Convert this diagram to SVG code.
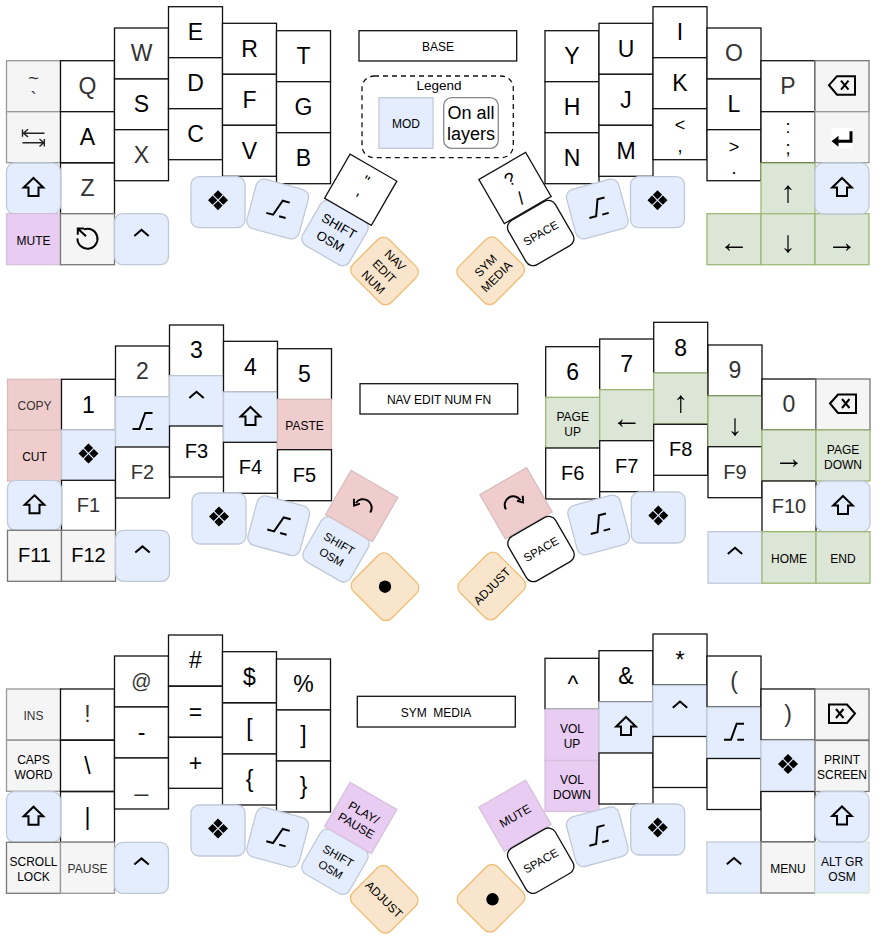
<svg xmlns="http://www.w3.org/2000/svg" width="882" height="940" viewBox="0 0 882 940">
<style>
rect{stroke-width:1.3}
.w{fill:#fff;stroke:#111}
.g{fill:#f5f5f5;stroke:#999}
.gk{fill:#f5f5f5;stroke:#777}
.b{fill:#e3edfd;stroke:#c0c9d7}
.a{fill:#e3edfd;stroke:#d6e6d8}
.v{fill:#dce6d6;stroke:#9db876}
.r{fill:#f0cdcd;stroke:#d9bcbc}
.p{fill:#e8ccf2;stroke:#d6c0dc}
.o{fill:#f9e5cb;stroke:#efbd73}
text{font-family:"Liberation Sans",Arial,sans-serif;text-anchor:middle;fill:#000}
.l{font-size:23px}
.f{font-size:20px}
.h{font-size:18px}
.s{font-size:12px}
.x{font-size:11.500px}
.m{font-size:13px}
.d{fill:#333}
.ar{font-size:30px;filter:grayscale(1)}
.ic{fill:none;stroke:#000;stroke-width:2}
.t1{fill:none;stroke:#222;stroke-width:1.4}
</style>
<defs>
<path id="super" d="M0-10L4.6-5.4 0-.8-4.6-5.4ZM0 .8L4.6 5.4 0 10-4.6 5.4ZM-5.4-4.6L-.8 0-5.4 4.6-10 0ZM5.4-4.6L10 0 5.4 4.6 .8 0Z" transform="translate(0 -2)"/>
<g id="alt" class="ic"><path d="M-10 6.700H-3L2.700-9.300H10M3.300 6.700H10"/></g>
<path id="shift" class="ic" d="M0-10.500L9.800-1H5V7.500H-5V-1H-9.800Z"/>
<path id="ctrl" class="ic" d="M-7.200-3.200L0-9.400 7.200-3.200"/>
<g id="bksp" class="ic"><path d="M-13-.5L-5-9.500H13V9H-5Z"/><path d="M-1-5L6.500 4M6.500-5L-1 4"/></g>
<g id="del" class="ic"><path d="M13-.5L5-9.500H-13V9H5Z"/><path d="M-6-5L1.500 4M1.500-5L-6 4"/></g>
<g id="enter"><rect x="-10.500" y="-10.500" width="21" height="21" fill="#fff" style="stroke:none"/><path d="M9-7V3H-4" fill="none" stroke="#000" stroke-width="3"/><path d="M-10.500 3L-3.500-2.500V8.500Z"/></g>
<g id="tab" class="t1"><path d="M-10.500-4.500H11M-11-8.200V-1M-5.500-8.500L-10-4.500-5.500-.8M-11 5H10M10.800 1.200V8.800M6 1.200L10.200 5 6 8.800"/></g>
<g id="restore" class="ic"><path d="M-3.500-9.800A10 10 0 1 1-10-.8"/><path d="M-9-10L-1.500-3M-9.700-4.500V-10.600H-3.500"/></g>
<g id="undo" class="ic"><path d="M8.500 6.500A8.500 8.500 0 0 0-5.800-3"/><path d="M-7.800-7.200L-7.600-.4-1.800-2.400"/></g>
<g id="redo" class="ic"><path d="M-10 6A8.500 8.500 0 0 1 4.500-3"/><path d="M6.800-7.500L7-.8 1-2.600"/></g>
</defs>

<!-- BASE LEFT -->
<g id="base-tilde" transform="translate(6.500 60.700)"><rect class="g" width="54" height="51"/><text class="d h" x="27" y="23">~</text><text class="d h" x="27" y="44">`</text></g>
<g id="base-tab" transform="translate(6.500 111.700)"><rect class="g" width="54" height="51"/><use href="#tab" x="27" y="26"/></g>
<g id="base-q" transform="translate(60.500 60.700)"><rect class="w" width="54" height="51"/><text class="l d" x="27" y="33.400">Q</text></g>
<g id="base-a" transform="translate(60.500 111.700)"><rect class="w" width="54" height="51"/><text class="l" x="27" y="33.400">A</text></g>
<g id="base-z" transform="translate(60.500 163)"><rect class="w" width="54" height="51"/><text class="l d" x="27" y="33.400">Z</text></g>
<g id="base-shift" transform="translate(6.500 163)"><rect class="b" width="54" height="51" rx="8"/><use href="#shift" x="27" y="25.500"/></g>
<g id="base-mute" transform="translate(6.500 213.700)"><rect class="p" width="54" height="51"/><text class="s" x="27" y="31">MUTE</text></g>
<g id="base-restore" transform="translate(60.500 213.700)"><rect class="gk" width="54" height="51"/><use href="#restore" x="27" y="25.500"/></g>
<g id="base-ctrl" transform="translate(114.500 213.700)"><rect class="b" width="54" height="51" rx="8"/><use href="#ctrl" x="27" y="25.500"/></g>
<g id="base-w" transform="translate(114.500 28)"><rect class="w" width="54" height="51"/><text class="l d" x="27" y="33.400">W</text></g>
<g id="base-s" transform="translate(114.500 79)"><rect class="w" width="54" height="51"/><text class="l" x="27" y="33.400">S</text></g>
<g id="base-x" transform="translate(114.500 129.700)"><rect class="w" width="54" height="51"/><text class="l d" x="27" y="33.400">X</text></g>
<g id="base-e" transform="translate(168.500 6.700)"><rect class="w" width="54" height="51"/><text class="l" x="27" y="33.400">E</text></g>
<g id="base-d" transform="translate(168.500 57.700)"><rect class="w" width="54" height="51"/><text class="l" x="27" y="33.400">D</text></g>
<g id="base-c" transform="translate(168.500 108.700)"><rect class="w" width="54" height="51"/><text class="l" x="27" y="33.400">C</text></g>
<g id="base-r" transform="translate(222.500 23.300)"><rect class="w" width="54" height="51"/><text class="l" x="27" y="33.400">R</text></g>
<g id="base-f" transform="translate(222.500 74.300)"><rect class="w" width="54" height="51"/><text class="l" x="27" y="33.400">F</text></g>
<g id="base-v" transform="translate(222.500 125.300)"><rect class="w" width="54" height="51"/><text class="l" x="27" y="33.400">V</text></g>
<g id="base-t" transform="translate(276.500 30.700)"><rect class="w" width="54" height="51"/><text class="l" x="27" y="33.400">T</text></g>
<g id="base-g" transform="translate(276.500 81.700)"><rect class="w" width="54" height="51"/><text class="l" x="27" y="33.400">G</text></g>
<g id="base-b" transform="translate(276.500 132.700)"><rect class="w" width="54" height="51"/><text class="l" x="27" y="33.400">B</text></g>
<g id="base-super-l" transform="translate(191 176.700)"><rect class="b" width="54" height="51" rx="8"/><use href="#super" x="27" y="25.500"/></g>
<g id="base-alt-l" transform="translate(277.700 209) rotate(15)"><rect class="b" x="-27" y="-25.500" width="54" height="51" rx="8"/><use href="#alt"/></g>
<g id="base-shiftosm" transform="translate(335 233) rotate(30)"><rect class="b" x="-27" y="-25.500" width="54" height="51" rx="8"/><text class="m" x="0" y="-3.500">SHIFT</text><text class="m" x="0" y="14">OSM</text></g>
<g id="base-quote" transform="translate(360.700 189.700) rotate(30)"><rect class="w" x="-27" y="-25.500" width="54" height="51"/><text style="font-size:16px" x="0" y="-4.600">"</text><text style="font-size:16px" x="0" y="15.700">'</text></g>
<g id="base-nav" transform="translate(384.500 271) rotate(45)"><rect class="o" x="-27" y="-25.500" width="54" height="51" rx="8"/><text class="s" x="0" y="-11">NAV</text><text class="s" x="0" y="4.500">EDIT</text><text class="s" x="0" y="20">NUM</text></g>

<!-- TITLE AND LEGEND -->
<g id="title-base"><rect class="w" x="359" y="30.700" width="157.700" height="30.300"/><text class="s" x="438" y="50.500">BASE</text></g>
<g id="legend">
<rect x="362" y="76" width="151.300" height="81.700" rx="12" fill="none" stroke="#111" stroke-dasharray="5 4"/>
<text style="font-size:13.500px" x="439" y="90">Legend</text>
<g id="legend-mod"><rect class="b" x="379" y="97.700" width="54" height="50.600"/><text class="s" x="406" y="127.500">MOD</text></g>
<g id="legend-all"><rect x="443.700" y="97.700" width="54.600" height="50.600" rx="8" fill="#fff" stroke="#888"/><text class="h" x="471" y="119">On all</text><text class="h" x="471" y="140">layers</text></g>
</g>

<!-- BASE RIGHT -->
<g id="base-y" transform="translate(545 30.700)"><rect class="w" width="54" height="51"/><text class="l" x="27" y="33.400">Y</text></g>
<g id="base-h" transform="translate(545 81.700)"><rect class="w" width="54" height="51"/><text class="l" x="27" y="33.400">H</text></g>
<g id="base-n" transform="translate(545 132.700)"><rect class="w" width="54" height="51"/><text class="l" x="27" y="33.400">N</text></g>
<g id="base-u" transform="translate(599 23.300)"><rect class="w" width="54" height="51"/><text class="l" x="27" y="33.400">U</text></g>
<g id="base-j" transform="translate(599 74.300)"><rect class="w" width="54" height="51"/><text class="l" x="27" y="33.400">J</text></g>
<g id="base-m" transform="translate(599 125.300)"><rect class="w" width="54" height="51"/><text class="l" x="27" y="33.400">M</text></g>
<g id="base-i" transform="translate(653 6.700)"><rect class="w" width="54" height="51"/><text class="l" x="27" y="33.400">I</text></g>
<g id="base-k" transform="translate(653 57.700)"><rect class="w" width="54" height="51"/><text class="l" x="27" y="33.400">K</text></g>
<g id="base-lt" transform="translate(653 108.700)"><rect class="w" width="54" height="51"/><text class="h" x="27" y="22.600">&lt;</text><text class="h" x="27" y="43.400">,</text></g>
<g id="base-o" transform="translate(707 28)"><rect class="w" width="54" height="51"/><text class="l d" x="27" y="33.400">O</text></g>
<g id="base-l" transform="translate(707 79)"><rect class="w" width="54" height="51"/><text class="l" x="27" y="33.400">L</text></g>
<g id="base-gt" transform="translate(707 129.700)"><rect class="w" width="54" height="51"/><text class="h" x="27" y="23">&gt;</text><text class="h" x="27" y="44">.</text></g>
<g id="base-p" transform="translate(761 60.700)"><rect class="w" width="54" height="51"/><text class="l d" x="27" y="33.400">P</text></g>
<g id="base-semi" transform="translate(761 111.700)"><rect class="w" width="54" height="51"/><text class="h" x="27" y="21.600">:</text><text class="h" x="27" y="42.300">;</text></g>
<g id="base-up" transform="translate(761 163)"><rect class="v" width="54" height="51"/><text class="ar" x="27" y="38.800">↑</text></g>
<g id="base-left" transform="translate(707 213.700)"><rect class="v" width="54" height="51"/><text class="ar" x="27" y="38">←</text></g>
<g id="base-down" transform="translate(761 213.700)"><rect class="v" width="54" height="51"/><text class="ar" x="27" y="38.800">↓</text></g>
<g id="base-right" transform="translate(815 213.700)"><rect class="v" width="54" height="51"/><text class="ar" x="27" y="38">→</text></g>
<g id="base-bksp" transform="translate(815 60.700)"><rect class="gk" width="54" height="51"/><use href="#bksp" x="27" y="25"/></g>
<g id="base-enter" transform="translate(815 111.700)"><rect class="g" width="54" height="51"/><use href="#enter" x="27" y="26.500"/></g>
<g id="base-shift-r" transform="translate(815 163)"><rect class="b" width="54" height="51" rx="8"/><use href="#shift" x="27" y="25.500"/></g>
<g id="base-super-r" transform="translate(630.500 176.700)"><rect class="b" width="54" height="51" rx="8"/><use href="#super" x="27" y="25.500"/></g>
<g id="base-alt-r" transform="translate(597.300 209) rotate(-15)"><rect class="b" x="-27" y="-25.500" width="54" height="51" rx="8"/><use href="#alt"/></g>
<g id="base-slash" transform="translate(515 188) rotate(-30)"><rect class="w" x="-27" y="-25.500" width="54" height="51"/><text class="h" x="0" y="-4">?</text><text class="h" x="0" y="18">/</text></g>
<g id="base-space" transform="translate(540.700 233) rotate(-30)"><rect class="w" x="-27" y="-25.500" width="54" height="51" rx="8"/><text class="x" x="0" y="4.200">SPACE</text></g>
<g id="base-sym" transform="translate(490.700 270.700) rotate(-45)"><rect class="o" x="-27" y="-25.500" width="54" height="51" rx="8"/><text class="s" x="0" y="-3">SYM</text><text class="s" x="0" y="12.500">MEDIA</text></g>

<!-- NAV LEFT -->
<g id="nav-copy" transform="translate(7.500 379.300)"><rect class="r" width="54" height="51"/><text class="s d" x="27" y="31">COPY</text></g>
<g id="nav-cut" transform="translate(7.500 430)"><rect class="r" width="54" height="51"/><text class="s" x="27" y="31">CUT</text></g>
<g id="nav-1" transform="translate(61.500 379.300)"><rect class="w" width="54" height="51"/><text class="l" x="27" y="33.400">1</text></g>
<g id="nav-super" transform="translate(61.500 430)"><rect class="b" width="54" height="51"/><use href="#super" x="27" y="25.500"/></g>
<g id="nav-f1" transform="translate(61.500 480.300)"><rect class="w" width="54" height="51"/><text class="f d" x="27" y="32">F1</text></g>
<g id="nav-shift" transform="translate(7.500 480.300)"><rect class="b" width="54" height="50" rx="8"/><use href="#shift" x="27" y="25.500"/></g>
<g id="nav-f11" transform="translate(7.500 530.300)"><rect class="gk" width="54" height="51"/><text class="f" x="27" y="32">F11</text></g>
<g id="nav-f12" transform="translate(61.500 530.300)"><rect class="gk" width="54" height="51"/><text class="f" x="27" y="32">F12</text></g>
<g id="nav-ctrl" transform="translate(115.500 530.300)"><rect class="b" width="54" height="51" rx="8"/><use href="#ctrl" x="27" y="25.500"/></g>
<g id="nav-2" transform="translate(115.500 346)"><rect class="w" width="54" height="51"/><text class="l d" x="27" y="33.400">2</text></g>
<g id="nav-alt" transform="translate(115.500 396.700)"><rect class="b" width="54" height="51"/><use href="#alt" x="27" y="25.500"/></g>
<g id="nav-f2" transform="translate(115.500 447)"><rect class="w" width="54" height="51"/><text class="f d" x="27" y="32">F2</text></g>
<g id="nav-3" transform="translate(169.500 325)"><rect class="w" width="54" height="51"/><text class="l" x="27" y="33.400">3</text></g>
<g id="nav-ctrl2" transform="translate(169.500 375.700)"><rect class="b" width="54" height="51"/><use href="#ctrl" x="27" y="25.500"/></g>
<g id="nav-f3" transform="translate(169.500 426)"><rect class="w" width="54" height="51"/><text class="f" x="27" y="32">F3</text></g>
<g id="nav-4" transform="translate(223.500 341.300)"><rect class="w" width="54" height="51"/><text class="l" x="27" y="33.400">4</text></g>
<g id="nav-shift2" transform="translate(223.500 392)"><rect class="b" width="54" height="51"/><use href="#shift" x="27" y="25.500"/></g>
<g id="nav-f4" transform="translate(223.500 442.300)"><rect class="w" width="54" height="51"/><text class="f" x="27" y="32">F4</text></g>
<g id="nav-5" transform="translate(277.500 348.700)"><rect class="w" width="54" height="51"/><text class="l" x="27" y="33.400">5</text></g>
<g id="nav-paste" transform="translate(277.500 399.300)"><rect class="r" width="54" height="51"/><text class="s" x="27" y="31">PASTE</text></g>
<g id="nav-f5" transform="translate(277.500 449.700)"><rect class="w" width="54" height="51"/><text class="f" x="27" y="32">F5</text></g>
<g id="nav-super-l" transform="translate(192 493)"><rect class="b" width="54" height="51" rx="8"/><use href="#super" x="27" y="25.500"/></g>
<g id="nav-alt-l" transform="translate(278.700 525.700) rotate(15)"><rect class="b" x="-27" y="-25.500" width="54" height="51" rx="8"/><use href="#alt"/></g>
<g id="nav-shiftosm" transform="translate(336 549.300) rotate(30)"><rect class="b" x="-27" y="-25.500" width="54" height="51" rx="8"/><text class="x" x="0" y="-2.500">SHIFT</text><text class="x" x="0" y="13">OSM</text></g>
<g id="nav-undo" transform="translate(361.700 506)"><rect class="r" x="-27" y="-25.500" width="54" height="51" transform="rotate(30)"/><use href="#undo"/></g>
<g id="nav-dot" transform="translate(385 586.700)"><rect class="o" x="-27" y="-25.500" width="54" height="51" rx="8" transform="rotate(45)"/><circle r="6.200"/></g>
<g id="title-nav"><rect class="w" x="360" y="383.700" width="157.700" height="30.300"/><text class="s" x="439" y="403.500">NAV EDIT NUM FN</text></g>

<!-- NAV RIGHT -->
<g id="nav-6" transform="translate(545.700 346.700)"><rect class="w" width="54" height="51"/><text class="l" x="27" y="33.400">6</text></g>
<g id="nav-pgup" transform="translate(545.700 397.300)"><rect class="v" width="54" height="51"/><text class="s" x="27" y="23.600">PAGE</text><text class="s" x="27" y="38.600">UP</text></g>
<g id="nav-f6" transform="translate(545.700 448)"><rect class="w" width="54" height="51"/><text class="f" x="27" y="32">F6</text></g>
<g id="nav-7" transform="translate(599.700 339)"><rect class="w" width="54" height="51"/><text class="l" x="27" y="33.400">7</text></g>
<g id="nav-left" transform="translate(599.700 389.700)"><rect class="v" width="54" height="51"/><text class="ar" x="27" y="38">←</text></g>
<g id="nav-f7" transform="translate(599.700 440.700)"><rect class="w" width="54" height="51"/><text class="f" x="27" y="32">F7</text></g>
<g id="nav-8" transform="translate(653.700 322.300)"><rect class="w" width="54" height="51"/><text class="l" x="27" y="33.400">8</text></g>
<g id="nav-up" transform="translate(653.700 373)"><rect class="v" width="54" height="51"/><text class="ar" x="27" y="38.800">↑</text></g>
<g id="nav-f8" transform="translate(653.700 424.300)"><rect class="w" width="54" height="51"/><text class="f" x="27" y="32">F8</text></g>
<g id="nav-9" transform="translate(708 345)"><rect class="w" width="54" height="51"/><text class="l d" x="27" y="33.400">9</text></g>
<g id="nav-down" transform="translate(708 396)"><rect class="v" width="54" height="51"/><text class="ar" x="27" y="38.800">↓</text></g>
<g id="nav-f9" transform="translate(708 446.700)"><rect class="w" width="54" height="51"/><text class="f d" x="27" y="32">F9</text></g>
<g id="nav-0" transform="translate(762 379)"><rect class="w" width="54" height="51"/><text class="l d" x="27" y="33.400">0</text></g>
<g id="nav-right" transform="translate(762 430)"><rect class="v" width="54" height="51"/><text class="ar" x="27" y="38">→</text></g>
<g id="nav-f10" transform="translate(762 481)"><rect class="w" width="54" height="50.700"/><text class="f d" x="27" y="32">F10</text></g>
<g id="nav-bksp" transform="translate(816 379)"><rect class="gk" width="54" height="51"/><use href="#bksp" x="27" y="25"/></g>
<g id="nav-pgdn" transform="translate(816 430)"><rect class="v" width="54" height="51"/><text class="s" x="27" y="23.600">PAGE</text><text class="s" x="27" y="38.600">DOWN</text></g>
<g id="nav-shift-r" transform="translate(816 481)"><rect class="b" width="54" height="50.700" rx="8"/><use href="#shift" x="27" y="25.500"/></g>
<g id="nav-ctrl-r" transform="translate(708 531.700)"><rect class="b" width="54" height="51.500"/><use href="#ctrl" x="27" y="25.500"/></g>
<g id="nav-home" transform="translate(762 531.700)"><rect class="v" width="54" height="51.500"/><text class="s" x="27" y="31">HOME</text></g>
<g id="nav-end" transform="translate(816 531.700)"><rect class="v" width="54" height="51.500"/><text class="s" x="27" y="31">END</text></g>
<g id="nav-super-r" transform="translate(631.300 492)"><rect class="b" width="54" height="51" rx="8"/><use href="#super" x="27" y="25.500"/></g>
<g id="nav-alt-r" transform="translate(598.700 525) rotate(-15)"><rect class="b" x="-27" y="-25.500" width="54" height="51" rx="8"/><use href="#alt"/></g>
<g id="nav-redo" transform="translate(516 503.300)"><rect class="r" x="-27" y="-25.500" width="54" height="51" transform="rotate(-30)"/><use href="#redo"/></g>
<g id="nav-space" transform="translate(541 549) rotate(-30)"><rect class="w" x="-27" y="-25.500" width="54" height="51" rx="8"/><text class="x" x="0" y="4.200">SPACE</text></g>
<g id="nav-adjust" transform="translate(491.700 586) rotate(-45)"><rect class="o" x="-27" y="-25.500" width="54" height="51" rx="8"/><text class="s" x="0" y="4.500">ADJUST</text></g>

<!-- SYM LEFT -->
<g id="sym-ins" transform="translate(6.500 689)"><rect class="g" width="54" height="51"/><text class="s d" x="27" y="31">INS</text></g>
<g id="sym-caps" transform="translate(6.500 740.300)"><rect class="g" width="54" height="51"/><text class="s" x="27" y="23.600">CAPS</text><text class="s" x="27" y="38.600">WORD</text></g>
<g id="sym-excl" transform="translate(60.500 689)"><rect class="w" width="54" height="51"/><text class="l d" x="27" y="33.400">!</text></g>
<g id="sym-bsl" transform="translate(60.500 740.300)"><rect class="w" width="54" height="51"/><text class="l" x="27" y="33.400">\</text></g>
<g id="sym-pipe" transform="translate(60.500 791.700)"><rect class="w" width="54" height="50.600"/><text class="l" x="27" y="33.400">|</text></g>
<g id="sym-shift" transform="translate(6.500 791.700)"><rect class="b" width="54" height="50.600" rx="8"/><use href="#shift" x="27" y="25.500"/></g>
<g id="sym-scroll" transform="translate(6.500 842.300)"><rect class="gk" width="54" height="51"/><text class="s" x="27" y="23.600">SCROLL</text><text class="s" x="27" y="38.600">LOCK</text></g>
<g id="sym-pause" transform="translate(60.500 842.300)"><rect class="g" width="54" height="51"/><text class="s d" x="27" y="31">PAUSE</text></g>
<g id="sym-ctrl" transform="translate(114.500 842.300)"><rect class="b" width="54" height="51" rx="8"/><use href="#ctrl" x="27" y="25.500"/></g>
<g id="sym-at" transform="translate(114.500 656)"><rect class="w" width="54" height="51"/><text class="f d" x="27" y="32">@</text></g>
<g id="sym-minus" transform="translate(114.500 707)"><rect class="w" width="54" height="51"/><text class="l" x="27" y="33.400">-</text></g>
<g id="sym-under" transform="translate(114.500 758)"><rect class="w" width="54" height="51"/><text class="d" style="font-size:24px" x="27" y="33">_</text></g>
<g id="sym-hash" transform="translate(168.500 635)"><rect class="w" width="54" height="51"/><text class="l" x="27" y="33.400">#</text></g>
<g id="sym-eq" transform="translate(168.500 686.300)"><rect class="w" width="54" height="51"/><text class="l" x="27" y="33.400">=</text></g>
<g id="sym-plus" transform="translate(168.500 737.300)"><rect class="w" width="54" height="51"/><text class="l" x="27" y="33.400">+</text></g>
<g id="sym-dollar" transform="translate(222.500 651.700)"><rect class="w" width="54" height="51"/><text class="l" x="27" y="33.400">$</text></g>
<g id="sym-lb" transform="translate(222.500 703)"><rect class="w" width="54" height="51"/><text class="l" x="27" y="33.400">[</text></g>
<g id="sym-lc" transform="translate(222.500 754)"><rect class="w" width="54" height="51"/><text class="l" x="27" y="33.400">{</text></g>
<g id="sym-pct" transform="translate(276.500 659)"><rect class="w" width="54" height="51"/><text class="l" x="27" y="33.400">%</text></g>
<g id="sym-rb" transform="translate(276.500 710)"><rect class="w" width="54" height="51"/><text class="l" x="27" y="33.400">]</text></g>
<g id="sym-rc" transform="translate(276.500 761)"><rect class="w" width="54" height="51"/><text class="l" x="27" y="33.400">}</text></g>
<g id="sym-super-l" transform="translate(191 805)"><rect class="b" width="54" height="51" rx="8"/><use href="#super" x="27" y="25.500"/></g>
<g id="sym-alt-l" transform="translate(277.700 837.300) rotate(15)"><rect class="b" x="-27" y="-25.500" width="54" height="51" rx="8"/><use href="#alt"/></g>
<g id="sym-shiftosm" transform="translate(335 861.700) rotate(30)"><rect class="b" x="-27" y="-25.500" width="54" height="51" rx="8"/><text class="x" x="0" y="-2.500">SHIFT</text><text class="x" x="0" y="13">OSM</text></g>
<g id="sym-play" transform="translate(360.700 818) rotate(30)"><rect class="p" x="-27" y="-25.500" width="54" height="51"/><text class="s" x="0" y="-2">PLAY/</text><text class="s" x="0" y="13">PAUSE</text></g>
<g id="sym-adjust" transform="translate(384.300 899.300) rotate(45)"><rect class="o" x="-27" y="-25.500" width="54" height="51" rx="8"/><text class="s" x="0" y="4.500">ADJUST</text></g>
<g id="title-sym"><rect class="w" x="357.300" y="696.300" width="158" height="30.700"/><text class="s" x="436" y="716.500" xml:space="preserve">SYM  MEDIA</text></g>

<!-- SYM RIGHT -->
<g id="sym-caret" transform="translate(545 658.300)"><rect class="w" width="54" height="51"/><text class="l" x="28" y="34">^</text></g>
<g id="sym-volup" transform="translate(545 709.500)"><rect class="p" width="54" height="51"/><text class="s" x="27" y="23.600">VOL</text><text class="s" x="27" y="38.600">UP</text></g>
<g id="sym-voldn" transform="translate(545 760.500)"><rect class="p" width="54" height="51"/><text class="s" x="27" y="23.600">VOL</text><text class="s" x="27" y="38.600">DOWN</text></g>
<g id="sym-amp" transform="translate(599 650.700)"><rect class="w" width="54" height="51"/><text class="l" x="27" y="33.400">&amp;</text></g>
<g id="sym-shift2" transform="translate(599 702)"><rect class="b" width="54" height="51"/><use href="#shift" x="27" y="25.500"/></g>
<g id="sym-blank1" transform="translate(599 753)"><rect class="w" width="54" height="51"/></g>
<g id="sym-star" transform="translate(653 634)"><rect class="w" width="54" height="51"/><text class="l" x="27" y="34">*</text></g>
<g id="sym-ctrl2" transform="translate(653 685.500)"><rect class="b" width="54" height="51"/><use href="#ctrl" x="27" y="25.500"/></g>
<g id="sym-blank2" transform="translate(653 736.500)"><rect class="w" width="54" height="51"/></g>
<g id="sym-lp" transform="translate(707 656)"><rect class="w" width="54" height="51"/><text class="l d" x="27" y="33.400">(</text></g>
<g id="sym-alt2" transform="translate(707 707.500)"><rect class="b" width="54" height="51"/><use href="#alt" x="27" y="25.500"/></g>
<g id="sym-blank3" transform="translate(707 758.500)"><rect class="w" width="54" height="51"/></g>
<g id="sym-rp" transform="translate(761 689)"><rect class="w" width="54" height="51"/><text class="l d" x="27" y="33.400">)</text></g>
<g id="sym-super2" transform="translate(761 740.500)"><rect class="b" width="54" height="51"/><use href="#super" x="27" y="25.500"/></g>
<g id="sym-blank4" transform="translate(761 791.500)"><rect class="w" width="54" height="50.500"/></g>
<g id="sym-del" transform="translate(815 689)"><rect class="gk" width="54" height="51"/><use href="#del" x="27" y="25"/></g>
<g id="sym-prt" transform="translate(815 740.500)"><rect class="gk" width="54" height="51"/><text class="s" x="27" y="23.600">PRINT</text><text class="s" x="27" y="38.600">SCREEN</text></g>
<g id="sym-ctrl-r" transform="translate(707 842)"><rect class="b" width="54" height="51"/><use href="#ctrl" x="27" y="25.500"/></g>
<g id="sym-menu" transform="translate(761 842)"><rect class="gk" width="54" height="51"/><text class="s" x="27" y="31">MENU</text></g>
<g id="sym-altgr" transform="translate(815 842)"><rect class="a" width="54" height="51"/><text class="s" x="27" y="23.600">ALT GR</text><text class="s" x="27" y="38.600">OSM</text></g>
<g id="sym-shift-r" transform="translate(815 791.500)"><rect class="b" width="54" height="50.500" rx="8"/><use href="#shift" x="27" y="25.500"/></g>
<g id="sym-super-r" transform="translate(630.700 804)"><rect class="b" width="54" height="51" rx="8"/><use href="#super" x="27" y="25.500"/></g>
<g id="sym-alt-r" transform="translate(597.300 836.700) rotate(-15)"><rect class="b" x="-27" y="-25.500" width="54" height="51" rx="8"/><use href="#alt"/></g>
<g id="sym-mute" transform="translate(515 815.700) rotate(-30)"><rect class="p" x="-27" y="-25.500" width="54" height="51"/><text class="s" x="0" y="4.500">MUTE</text></g>
<g id="sym-space" transform="translate(540.700 860.700) rotate(-30)"><rect class="w" x="-27" y="-25.500" width="54" height="51" rx="8"/><text class="x" x="0" y="4.200">SPACE</text></g>
<g id="sym-dot" transform="translate(491 898.300)"><rect class="o" x="-27" y="-25.500" width="54" height="51" rx="8" transform="rotate(-45)"/><circle r="6.200" transform="translate(1.500 1)"/></g>
</svg>
